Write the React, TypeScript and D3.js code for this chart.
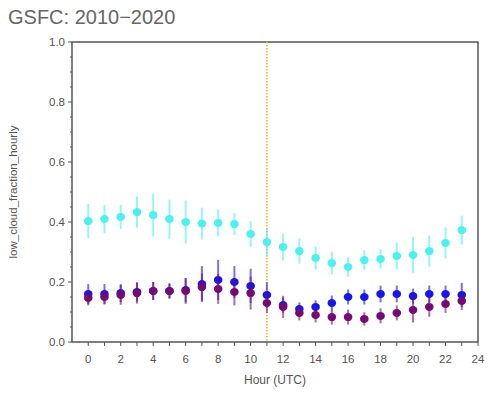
import React from "react";
import * as d3 from "d3";

const hours = d3.range(0, 24);

// cyan series
const cyanMean = [0.403, 0.41, 0.417, 0.433, 0.423, 0.41, 0.4, 0.395, 0.397, 0.393, 0.36, 0.333,
  0.317, 0.303, 0.28, 0.263, 0.25, 0.273, 0.277, 0.287, 0.29, 0.303, 0.33, 0.373];
const cyanErr = [0.057, 0.047, 0.04, 0.052, 0.072, 0.065, 0.072, 0.053, 0.045, 0.037, 0.043, 0.048,
  0.045, 0.042, 0.038, 0.038, 0.032, 0.033, 0.032, 0.045, 0.06, 0.052, 0.052, 0.048];

// blue series
const blueMean = [0.16, 0.16, 0.163, 0.167, 0.17, 0.17, 0.173, 0.193, 0.207, 0.2, 0.187, 0.157,
  0.123, 0.11, 0.117, 0.13, 0.15, 0.15, 0.16, 0.16, 0.153, 0.16, 0.16, 0.157];
const blueErr = [0.033, 0.033, 0.03, 0.032, 0.03, 0.025, 0.04, 0.06, 0.067, 0.053, 0.057, 0.042,
  0.025, 0.022, 0.022, 0.025, 0.025, 0.025, 0.028, 0.028, 0.025, 0.028, 0.028, 0.04];

// purple series
const purpleMean = [0.147, 0.15, 0.157, 0.163, 0.17, 0.17, 0.17, 0.183, 0.177, 0.167, 0.163, 0.13,
  0.117, 0.097, 0.09, 0.083, 0.083, 0.077, 0.087, 0.097, 0.107, 0.117, 0.127, 0.137];
const purpleErr = [0.025, 0.025, 0.033, 0.035, 0.03, 0.025, 0.043, 0.045, 0.05, 0.045, 0.055, 0.033,
  0.037, 0.025, 0.025, 0.025, 0.025, 0.022, 0.025, 0.025, 0.042, 0.033, 0.03, 0.03];

const xTicks = d3.range(0, 25, 2);
const yTicks = [0, 0.2, 0.4, 0.6, 0.8, 1.0];
const markerHour = 11;

const series = [
  { mean: cyanMean, err: cyanErr, colour: "#4cf0f0" },
  { mean: blueMean, err: blueErr, colour: "#1616e8" },
  { mean: purpleMean, err: purpleErr, colour: "#760a74" },
];

export default function App() {
  const width = 488, height = 397;
  const left = 72, right = 478, top = 42, bottom = 342;
  const x = d3.scaleLinear().domain([-1, 24]).range([left, right]);
  const y = d3.scaleLinear().domain([0, 1]).range([bottom, top]);
  const font = "'Liberation Sans', Arial, sans-serif";
  const axisCol = "#555";

  return (
    <svg width={width} height={height} style={{ position: "absolute", left: 0, top: 0 }}>
      <rect width={width} height={height} fill="#fff" />
      <text x={8} y={24} fontFamily={font} fontSize={20} fill="#666">GSFC: 2010−2020</text>

      {/* frame */}
      <rect x={left} y={top} width={right - left} height={bottom - top} fill="none" stroke={axisCol} strokeWidth={1.5} />

      {/* y ticks */}
      {d3.range(0, 1.0001, 0.05).map((v, i) => (
        <line key={"yt" + i} x1={left} x2={left - (i % 4 === 0 ? 4 : 2)} y1={y(v)} y2={y(v)} stroke={axisCol} strokeWidth={1} />
      ))}
      {yTicks.map(v => (
        <text key={"yl" + v} x={left - 7} y={y(v) + 4} textAnchor="end" fontFamily={font} fontSize={11.5} fill="#555">{v.toFixed(1)}</text>
      ))}

      {/* x ticks */}
      {d3.range(0, 25).map(h => (
        <line key={"xt" + h} x1={x(h)} x2={x(h)} y1={bottom} y2={bottom + 4} stroke={axisCol} strokeWidth={1} />
      ))}
      {xTicks.map(h => (
        <text key={"xl" + h} x={x(h)} y={bottom + 21} textAnchor="middle" fontFamily={font} fontSize={11.5} fill="#555">{h}</text>
      ))}

      <text x={x(11.5)} y={384} textAnchor="middle" fontFamily={font} fontSize={12} fill="#555">Hour (UTC)</text>
      <text transform={`translate(17,${(top + bottom) / 2}) rotate(-90)`} textAnchor="middle" fontFamily={font} fontSize={11.5} fill="#555">low_cloud_fraction_hourly</text>

      {/* dotted marker line */}
      <line x1={x(markerHour)} x2={x(markerHour)} y1={top} y2={bottom} stroke="#f0b428" strokeWidth={1.5} strokeDasharray="1.5 1.5" />

      {series.map((s, si) => (
        <g key={"s" + si}>
          {hours.map(h => (
            <line key={"e" + h} x1={x(h)} x2={x(h)} y1={y(s.mean[h] - s.err[h])} y2={y(s.mean[h] + s.err[h])}
              stroke={s.colour} strokeOpacity={0.6} strokeWidth={2} />
          ))}
          {hours.map(h => (
            <ellipse key={"p" + h} cx={x(h)} cy={y(s.mean[h])} rx={4.3} ry={4} fill={s.colour} />
          ))}
        </g>
      ))}
    </svg>
  );
}
